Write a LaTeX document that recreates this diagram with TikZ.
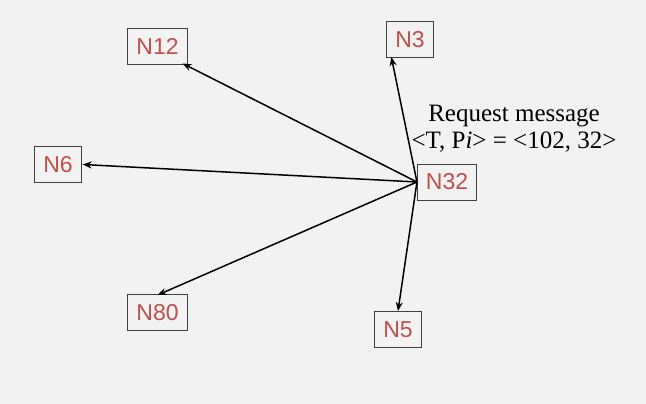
\documentclass[tikz,border=0pt]{standalone}
\usepackage{fontspec}
\setmainfont{Liberation Serif}
\newfontfamily\arialf{Liberation Sans}
\usetikzlibrary{arrows.meta}
\definecolor{bg}{HTML}{F2F2F2}
\definecolor{nred}{HTML}{C0504D}
\tikzset{
  nodebox/.style={draw=black!75, line width=0.9pt, fill=bg, text=nred, font=\arialf\fontsize{23}{25}\selectfont, minimum height=36pt, inner xsep=8.5pt, inner ysep=0pt, anchor=center},
  link/.style={-{Stealth[length=9pt,width=7pt]}, line width=1.5pt, black}
}
\begin{document}
\begin{tikzpicture}[x=1pt,y=-1pt]
\fill[bg] (0,0) rectangle (646,404);
\useasboundingbox (0,0) rectangle (646,404);
\node[nodebox] (n12) at (157.5,46) {N12};
\node[nodebox] (n3) at (410,39.5) {N3};
\node[nodebox] (n6) at (58,164.5) {N6};
\node[nodebox] (n32) at (447,182) {N32};
\node[nodebox] (n80) at (157.5,312.5) {N80};
\node[nodebox] (n5) at (398,329.5) {N5};
\node[font=\fontsize{25}{27}\selectfont, align=center, inner sep=0pt] (msg) at (514,129) {Request message\\\textless T, P\textit{i}\textgreater{} = \textless 102, 32\textgreater};
\draw[link] (n32.west) -- ([xshift=-5pt,yshift=1pt]n12.south east);
\draw[link] (n32.west) -- ([xshift=5pt,yshift=1pt]n3.south west);
\draw[link] (n32.west) -- ([xshift=1pt]n6.east);
\draw[link] (n32.west) -- ([yshift=-1pt]n80.north);
\draw[link] (n32.west) -- (n5.north);
\end{tikzpicture}
\end{document}
